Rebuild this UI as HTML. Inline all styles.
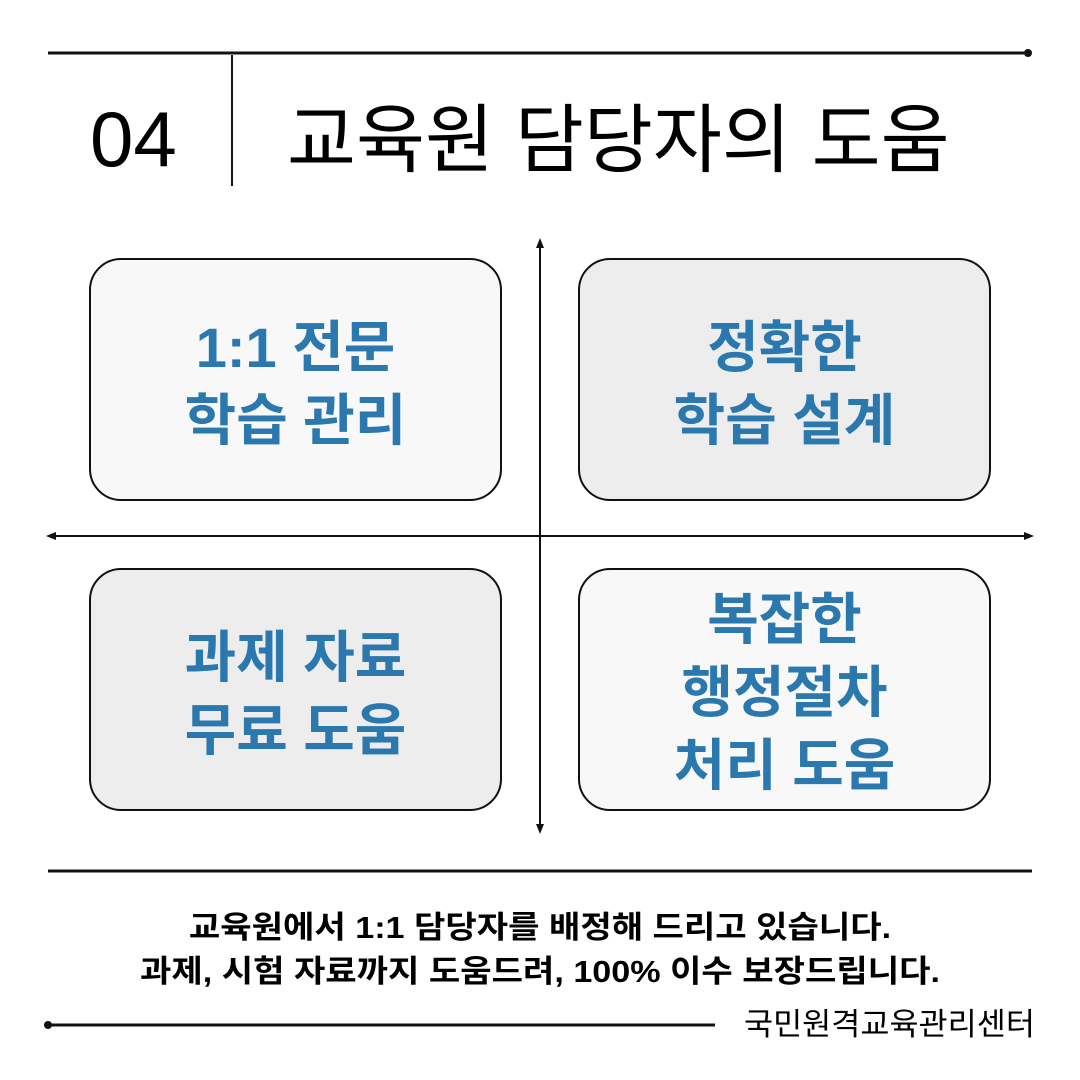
<!DOCTYPE html>
<html><head><meta charset="utf-8"><style>
body{margin:0;width:1080px;height:1080px;background:#fff;position:relative;overflow:hidden;font-family:"Liberation Sans","Noto Sans CJK KR",sans-serif;color:#000}
.a{position:absolute}
.box{position:absolute;width:409px;height:239px;border:2px solid #111;border-radius:32px;display:flex;align-items:center;justify-content:center;text-align:center;color:#2a78ad;font-weight:700;font-size:56px;line-height:73px;box-sizing:content-box}
.p{padding-top:8px;height:231px}
.t{position:absolute;left:0;width:1080px;text-align:center;font-weight:700;font-size:31px;transform:scaleX(1.1)}
</style></head><body>
<svg class="a" style="left:0;top:0" width="1080" height="1080">
<line x1="48" y1="53" x2="1028" y2="53" stroke="#111" stroke-width="3"/>
<circle cx="1028" cy="53" r="4" fill="#111"/>
<line x1="232" y1="55" x2="232" y2="186" stroke="#111" stroke-width="2"/>
<line x1="540" y1="246" x2="540" y2="826" stroke="#111" stroke-width="2"/>
<polygon points="540,238 536,248 544,248" fill="#111"/>
<polygon points="540,834 536,824 544,824" fill="#111"/>
<line x1="54" y1="536" x2="1026" y2="536" stroke="#111" stroke-width="2"/>
<polygon points="46,536 56,532 56,540" fill="#111"/>
<polygon points="1034,536 1024,532 1024,540" fill="#111"/>
<line x1="48" y1="871" x2="1032" y2="871" stroke="#111" stroke-width="3"/>
<line x1="48" y1="1025" x2="715" y2="1025" stroke="#111" stroke-width="3"/>
<circle cx="48" cy="1025" r="4" fill="#111"/>
</svg>
<div class="a" style="left:90px;top:92px;font-size:78px;line-height:94px">04</div>
<div class="a" style="left:287px;top:93px;font-size:75px;line-height:94px">교육원 담당자의 도움</div>
<div class="box p" style="left:89px;top:258px;background:#f8f8f8">1:1 전문<br>학습 관리</div>
<div class="box p" style="left:578px;top:258px;background:#ededed">정확한<br>학습 설계</div>
<div class="box p" style="left:89px;top:568px;background:#ededed">과제 자료<br>무료 도움</div>
<div class="box" style="left:578px;top:568px;background:#f8f8f8;padding-top:6px;height:233px">복잡한<br>행정절차<br>처리 도움</div>
<div class="t" style="top:907px;line-height:42px">교육원에서 1:1 담당자를 배정해 드리고 있습니다.</div>
<div class="t" style="top:951px;line-height:42px">과제, 시험 자료까지 도움드려, 100% 이수 보장드립니다.</div>
<div class="a" style="left:744px;top:1005px;font-size:31px;line-height:40px;transform:scaleX(1.02);transform-origin:left">국민원격교육관리센터</div>
</body></html>
